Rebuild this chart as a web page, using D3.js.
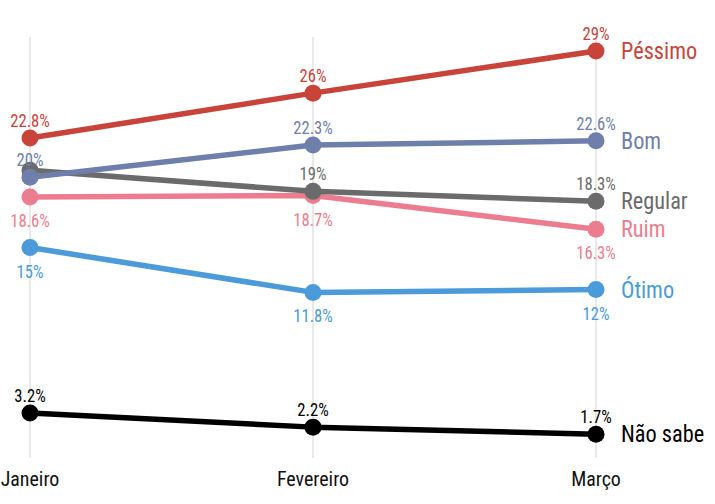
<!DOCTYPE html>
<html><head><meta charset="utf-8">
<script src="https://cdn.jsdelivr.net/npm/d3@7"></script>
<style>
body{margin:0;background:#fff;}
text{font-family:"Liberation Sans Narrow","Roboto Condensed","DejaVu Sans Condensed",sans-serif;}
</style></head>
<body><svg id="c" width="715" height="504"></svg>
<script>
const months = ["Janeiro","Fevereiro","Março"];
const seriesNames = ["Não sabe","Ótimo","Ruim","Regular","Bom","Péssimo"];
const naoSabe = [3.2, 2.2, 1.7];
const otimo = [15, 11.8, 12];
const ruim = [18.6, 18.7, 16.3];
const regular = [20.5, 19, 18.3];
const bom = [20, 22.3, 22.6];
const pessimo = [22.8, 26, 29];
const colors = ["#000000","#4b9ad9","#ec7d90","#6b6b6b","#6f7fac","#c8443b"];
const labelBelow = [false,true,true,false,false,false];
const hiddenLabels = {"Regular":[0]};

const values = [naoSabe, otimo, ruim, regular, bom, pessimo];
const svg = d3.select("#c");
const x = d3.scalePoint().domain(months).range([30, 596]);
const y = d3.scaleLinear().domain([0, 30]).range([458, 37]);

// gridlines
svg.append("g").selectAll("line").data(months).join("line")
  .attr("x1", d=>x(d)).attr("x2", d=>x(d))
  .attr("y1", y(30)).attr("y2", y(0))
  .attr("stroke", "#e2e2e2").attr("stroke-width", 1.5);

// axis labels
svg.append("g").selectAll("text").data(months).join("text")
  .attr("transform", d=>`translate(${x(d)},486) scale(0.95,1)`)
  .attr("text-anchor", "middle").attr("font-size", 21).attr("fill", "#111")
  .text(d=>d);

const line = d3.line().x((d,i)=>x(months[i])).y(d=>y(d));

seriesNames.forEach((name, si) => {
  const vals = values[si];
  const g = svg.append("g");
  g.append("path").datum(vals).attr("d", line)
    .attr("fill","none").attr("stroke", colors[si]).attr("stroke-width", 5.5)
    .attr("stroke-linejoin","round");
  g.selectAll("circle").data(vals).join("circle")
    .attr("cx",(d,i)=>x(months[i])).attr("cy", d=>y(d)).attr("r", 8.5)
    .attr("fill", colors[si]);
});

// value labels
seriesNames.forEach((name, si) => {
  const vals = values[si];
  const hid = hiddenLabels[name] || [];
  const pts = vals.map((v,i)=>({v, m: months[i], i})).filter(p=>!hid.includes(p.i));
  svg.append("g").selectAll("text").data(pts).join("text")
    .attr("transform", p=>`translate(${x(p.m)},${labelBelow[si] ? y(p.v)+30 : y(p.v)-11}) scale(0.9,1)`)
    .attr("text-anchor","middle").attr("font-size", 18.5)
    .attr("fill", colors[si])
    .text(p=> p.v + "%");
  svg.append("text")
    .attr("transform", `translate(621,${y(vals[2]) + 8}) scale(0.93,1)`)
    .attr("font-size", 24).attr("fill", colors[si])
    .text(name);
});
</script></body></html>
